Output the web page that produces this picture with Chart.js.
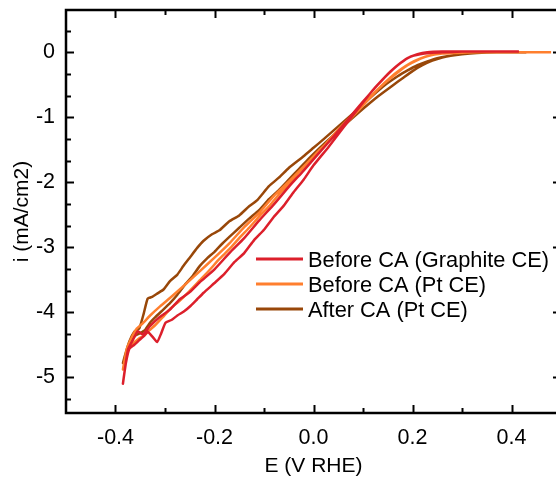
<!doctype html>
<html lang="en">
  <head>
    <meta charset="UTF-8">
    <title>LSV curves</title>
    <style>
      html, body { margin: 0; padding: 0; overflow: hidden; background: #fff; }
    </style>
  </head>
  <body>
    <canvas id="myChart" width="564" height="477"></canvas>

    <script src="https://cdnjs.cloudflare.com/ajax/libs/Chart.js/4.4.1/chart.umd.min.js"></script>
    <script>
    // Data-----
    const labels = ['Before CA (Graphite CE)', 'Before CA (Pt CE)', 'After CA (Pt CE)'];
    const colors = ['#DC1F2B', '#FF7F2E', '#984709'];

    // Before CA (Graphite CE): cathodic sweep, then return sweep
    const graphiteDownE = [0.415, 0.36, 0.30, 0.26, 0.235, 0.215, 0.195, 0.175, 0.155, 0.13, 0.10, 0.07, 0.04, 0.01, -0.02, -0.05, -0.08, -0.11, -0.14, -0.17, -0.20, -0.23, -0.25, -0.27, -0.29, -0.31, -0.33, -0.345, -0.355, -0.365, -0.375];
    const graphiteDownI = [0.01, 0.01, 0.01, 0.00, -0.01, -0.03, -0.07, -0.17, -0.30, -0.50, -0.76, -1.03, -1.30, -1.56, -1.82, -2.07, -2.34, -2.59, -2.86, -3.09, -3.34, -3.54, -3.69, -3.80, -3.96, -4.07, -4.21, -4.34, -4.29, -4.43, -4.58];
    const graphiteUpE = [-0.385, -0.379, -0.372, -0.362, -0.352, -0.342, -0.335, -0.325, -0.316, -0.308, -0.299, -0.287, -0.275, -0.262, -0.248, -0.235, -0.222, -0.20, -0.18, -0.16, -0.14, -0.12, -0.10, -0.08, -0.06, -0.04, -0.02, 0.00, 0.03, 0.06, 0.09, 0.12, 0.15, 0.17, 0.19, 0.21, 0.23, 0.26, 0.30, 0.36, 0.415];
    const graphiteUpI = [-5.10, -4.78, -4.56, -4.50, -4.43, -4.36, -4.30, -4.38, -4.46, -4.33, -4.16, -4.12, -4.05, -3.99, -3.90, -3.80, -3.70, -3.55, -3.41, -3.23, -3.09, -2.89, -2.73, -2.53, -2.36, -2.15, -1.96, -1.74, -1.46, -1.16, -0.87, -0.58, -0.34, -0.20, -0.09, -0.03, 0.00, 0.01, 0.01, 0.01, 0.01];

    // Before CA (Pt CE)
    const ptBeforeDownE = [0.48, 0.40, 0.33, 0.29, 0.26, 0.235, 0.215, 0.195, 0.175, 0.155, 0.13, 0.10, 0.07, 0.04, 0.01, -0.02, -0.05, -0.08, -0.11, -0.14, -0.17, -0.20, -0.23, -0.26, -0.29, -0.31, -0.33, -0.345, -0.358, -0.368, -0.377];
    const ptBeforeDownI = [0.0, 0.0, 0.0, -0.01, -0.02, -0.05, -0.10, -0.17, -0.27, -0.39, -0.57, -0.82, -1.06, -1.30, -1.52, -1.76, -1.99, -2.21, -2.47, -2.69, -2.94, -3.16, -3.37, -3.58, -3.78, -3.91, -4.05, -4.17, -4.26, -4.40, -4.56];
    const ptBeforeUpE = [-0.385, -0.379, -0.371, -0.362, -0.352, -0.342, -0.332, -0.32, -0.305, -0.29, -0.27, -0.25, -0.23, -0.21, -0.19, -0.17, -0.15, -0.13, -0.11, -0.09, -0.07, -0.05, -0.03, -0.01, 0.02, 0.05, 0.08, 0.11, 0.14, 0.17, 0.19, 0.21, 0.23, 0.26, 0.30, 0.36, 0.42];
    const ptBeforeUpI = [-4.88, -4.70, -4.52, -4.46, -4.40, -4.36, -4.28, -4.20, -4.08, -3.95, -3.82, -3.67, -3.51, -3.35, -3.18, -3.03, -2.86, -2.70, -2.53, -2.37, -2.19, -2.03, -1.85, -1.69, -1.45, -1.19, -0.95, -0.72, -0.50, -0.31, -0.20, -0.12, -0.06, -0.02, 0.0, 0.0, 0.0];

    // After CA (Pt CE)
    const ptAfterDownE = [0.43, 0.37, 0.33, 0.30, 0.27, 0.25, 0.23, 0.21, 0.19, 0.17, 0.14, 0.11, 0.08, 0.05, 0.02, 0.00, -0.02, -0.05, -0.07, -0.09, -0.113, -0.13, -0.15, -0.17, -0.19, -0.205, -0.222, -0.235, -0.25, -0.263, -0.275, -0.29, -0.303, -0.315, -0.325, -0.335, -0.343, -0.352, -0.362, -0.372];
    const ptAfterDownI = [0.0, 0.0, -0.01, -0.03, -0.06, -0.09, -0.14, -0.20, -0.28, -0.37, -0.53, -0.73, -0.94, -1.14, -1.34, -1.47, -1.60, -1.78, -1.93, -2.06, -2.27, -2.37, -2.51, -2.60, -2.74, -2.80, -2.90, -3.01, -3.16, -3.29, -3.42, -3.52, -3.65, -3.71, -3.76, -3.79, -4.02, -4.25, -4.30, -4.45];
    const ptAfterUpE = [-0.385, -0.378, -0.37, -0.36, -0.35, -0.34, -0.33, -0.32, -0.305, -0.29, -0.275, -0.26, -0.245, -0.23, -0.215, -0.20, -0.185, -0.17, -0.15, -0.13, -0.11, -0.09, -0.07, -0.05, -0.03, -0.01, 0.01, 0.04, 0.07, 0.10, 0.13, 0.16, 0.18, 0.20, 0.22, 0.24, 0.26, 0.28, 0.31, 0.35, 0.40, 0.425];
    const ptAfterUpI = [-4.78, -4.62, -4.45, -4.36, -4.32, -4.27, -4.16, -4.08, -3.97, -3.86, -3.73, -3.58, -3.45, -3.29, -3.17, -3.07, -2.95, -2.84, -2.70, -2.56, -2.43, -2.26, -2.12, -1.96, -1.80, -1.64, -1.49, -1.28, -1.07, -0.87, -0.68, -0.51, -0.40, -0.29, -0.20, -0.13, -0.08, -0.05, -0.02, 0.0, 0.0, 0.0];

    // Axes
    const xTicks = [-0.4, -0.2, 0.0, 0.2, 0.4];
    const xMinor = [-0.3, -0.1, 0.1, 0.3];
    const yTicks = [-5, -4, -3, -2, -1, 0];
    const yMinor = [-5.333, -4.667, -4.333, -3.667, -3.333, -2.667, -2.333, -1.667, -1.333, -0.667, -0.333, 0.333];
    // Data-----

    const loop = (e1, i1, e2, i2) =>
        e1.map((e, k) => ({x: e, y: i1[k]})).concat(e2.map((e, k) => ({x: e, y: i2[k]})));

    const series = [
        loop(graphiteDownE, graphiteDownI, graphiteUpE, graphiteUpI),
        loop(ptBeforeDownE, ptBeforeDownI, ptBeforeUpE, ptBeforeUpI),
        loop(ptAfterDownE, ptAfterDownI, ptAfterUpE, ptAfterUpI)
    ];

    const FONT = "'Liberation Sans', Arial, sans-serif";
    Chart.defaults.font.family = FONT;
    Chart.defaults.font.size = 21;
    Chart.defaults.color = '#000';

    // frame, inward ticks and legend, like the Origin plot
    const frameTicks = {
        id: 'frameTicks',
        afterDatasetsDraw(chart) {
            const {ctx, chartArea: a, scales: {x, y}} = chart;
            const seg = (x1, y1, x2, y2) => { ctx.beginPath(); ctx.moveTo(x1, y1); ctx.lineTo(x2, y2); ctx.stroke(); };
            ctx.save();
            ctx.strokeStyle = '#000';
            ctx.lineWidth = 2;
            xTicks.concat(xMinor).forEach(v => {
                const px = Math.round(x.getPixelForValue(v)) + 0.5;
                const len = xTicks.includes(v) ? 8 : 5;
                seg(px, a.bottom, px, a.bottom - len);
                seg(px, a.top, px, a.top + len);
            });
            yTicks.concat(yMinor).forEach(v => {
                const py = Math.round(y.getPixelForValue(v)) + 0.5;
                const len = yTicks.includes(v) ? 8 : 5;
                seg(a.left, py, a.left + len, py);
                seg(a.right, py, a.right - len, py);
            });
            ctx.lineWidth = 2.5;
            ctx.strokeRect(a.left, a.top, a.right - a.left, a.bottom - a.top);

            // legend
            ctx.font = '21.8px ' + FONT;
            ctx.textBaseline = 'middle';
            ctx.textAlign = 'left';
            chart.data.datasets.forEach((ds, k) => {
                const ly = 259 + k * 25;
                ctx.strokeStyle = ds.borderColor;
                ctx.lineWidth = 3;
                seg(256, ly, 303, ly);
                ctx.fillStyle = '#000';
                ctx.fillText(ds.label, 308, ly + 2);
            });
            ctx.restore();
        }
    };

    const config = {
        type: 'scatter',
        data: {
            datasets: series.map((pts, k) => ({
                label: labels[k],
                data: pts,
                showLine: true,
                borderColor: colors[k],
                backgroundColor: colors[k],
                borderWidth: 2.5,
                pointRadius: 0,
                tension: 0.15
            }))
        },
        options: {
            responsive: false,
            animation: false,
            layout: { padding: { top: 10, right: 3, left: 0, bottom: 0 } },
            plugins: {
                legend: { display: false },
                tooltip: { enabled: false }
            },
            scales: {
                x: {
                    type: 'linear',
                    min: -0.5,
                    max: 0.5,
                    afterBuildTicks: (s) => { s.ticks = xTicks.map(v => ({value: v})); },
                    afterFit: (s) => { s.height = 64; s.paddingLeft = 0; s.paddingRight = 0; },
                    grid: { display: false, drawTicks: false },
                    border: { display: false },
                    ticks: {
                        padding: 12,
                        font: { size: 21.5 },
                        callback: (v) => Number(v).toFixed(1)
                    },
                    title: {
                        display: true,
                        text: 'E (V RHE)',
                        font: { size: 21, lineHeight: 1 },
                        padding: 0
                    }
                },
                y: {
                    type: 'linear',
                    min: -5.55,
                    max: 0.65,
                    afterBuildTicks: (s) => { s.ticks = yTicks.map(v => ({value: v})); },
                    afterFit: (s) => { s.width = 66; s.paddingTop = 0; s.paddingBottom = 0; },
                    grid: { display: false, drawTicks: false },
                    border: { display: false },
                    ticks: {
                        padding: 11,
                        font: { size: 21.5 },
                        callback: (v) => String(v)
                    },
                    title: {
                        display: true,
                        text: 'i (mA/cm2)',
                        font: { size: 21, lineHeight: 1.2 },
                        padding: { top: 10, bottom: 0 }
                    }
                }
            }
        },
        plugins: [frameTicks]
    };

    const myChart = new Chart(document.getElementById('myChart'), config);
    </script>
  </body>
</html>
